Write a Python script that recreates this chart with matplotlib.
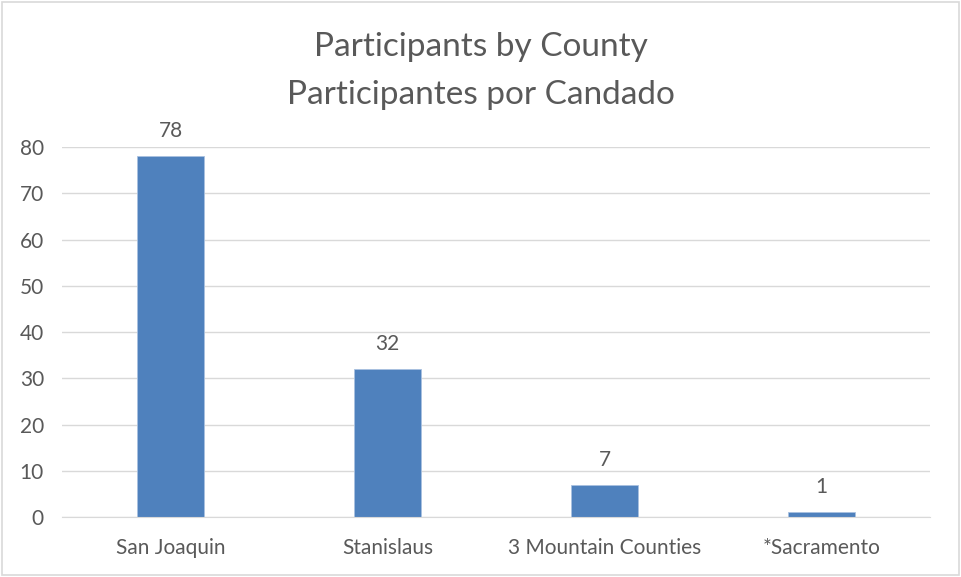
import matplotlib
matplotlib.use("Agg")
import matplotlib.pyplot as plt
from matplotlib.patches import Rectangle

counties = ["San Joaquin", "Stanislaus", "3 Mountain Counties", "*Sacramento"]
participants = [78, 32, 7, 1]
y_ticks = [0, 10, 20, 30, 40, 50, 60, 70, 80]

text_color = "#595959"
bar_color = "#4f81bd"
grid_color = "#d9d9d9"

plt.rcParams["font.family"] = ["Lato", "DejaVu Sans"]

fig = plt.figure(figsize=(9.61, 5.77), dpi=100)
ax = fig.add_axes([0.0645, 0.104, 0.9035, 0.641])

x = list(range(len(counties)))
bars = ax.bar(x, participants, width=0.31, color=bar_color,
              edgecolor="#a9c1e0", linewidth=0.6, zorder=3)
for b, v in zip(bars, participants):
    ax.text(b.get_x() + b.get_width() / 2, v + 5.4, str(v), ha="center",
            va="center", fontsize=15, color=text_color, clip_on=False)

ax.set_xlim(-0.5, len(counties) - 0.5)
ax.set_ylim(0, 80)
ax.set_yticks(y_ticks)
ax.set_xticks(x)
ax.set_xticklabels(counties)
ax.tick_params(axis="both", length=0, labelsize=15, labelcolor=text_color)
ax.tick_params(axis="x", pad=15)
ax.tick_params(axis="y", pad=13)

ax.grid(axis="y", color=grid_color, linewidth=1, zorder=0)
for side in ["top", "right", "left"]:
    ax.spines[side].set_visible(False)
ax.spines["bottom"].set_color(grid_color)
ax.spines["bottom"].set_zorder(4)

fig.text(0.5, 0.918, "Participants by County", ha="center", va="center",
         fontsize=24, color=text_color)
fig.text(0.5, 0.835, "Participantes por Candado", ha="center", va="center",
         fontsize=24, color=text_color)

# light frame around the chart area
fig.patches.append(Rectangle((0.002, 0.003), 0.996, 0.994, transform=fig.transFigure,
                             fill=False, edgecolor=grid_color, linewidth=1.2))

fig.savefig("out.png", dpi=100)
